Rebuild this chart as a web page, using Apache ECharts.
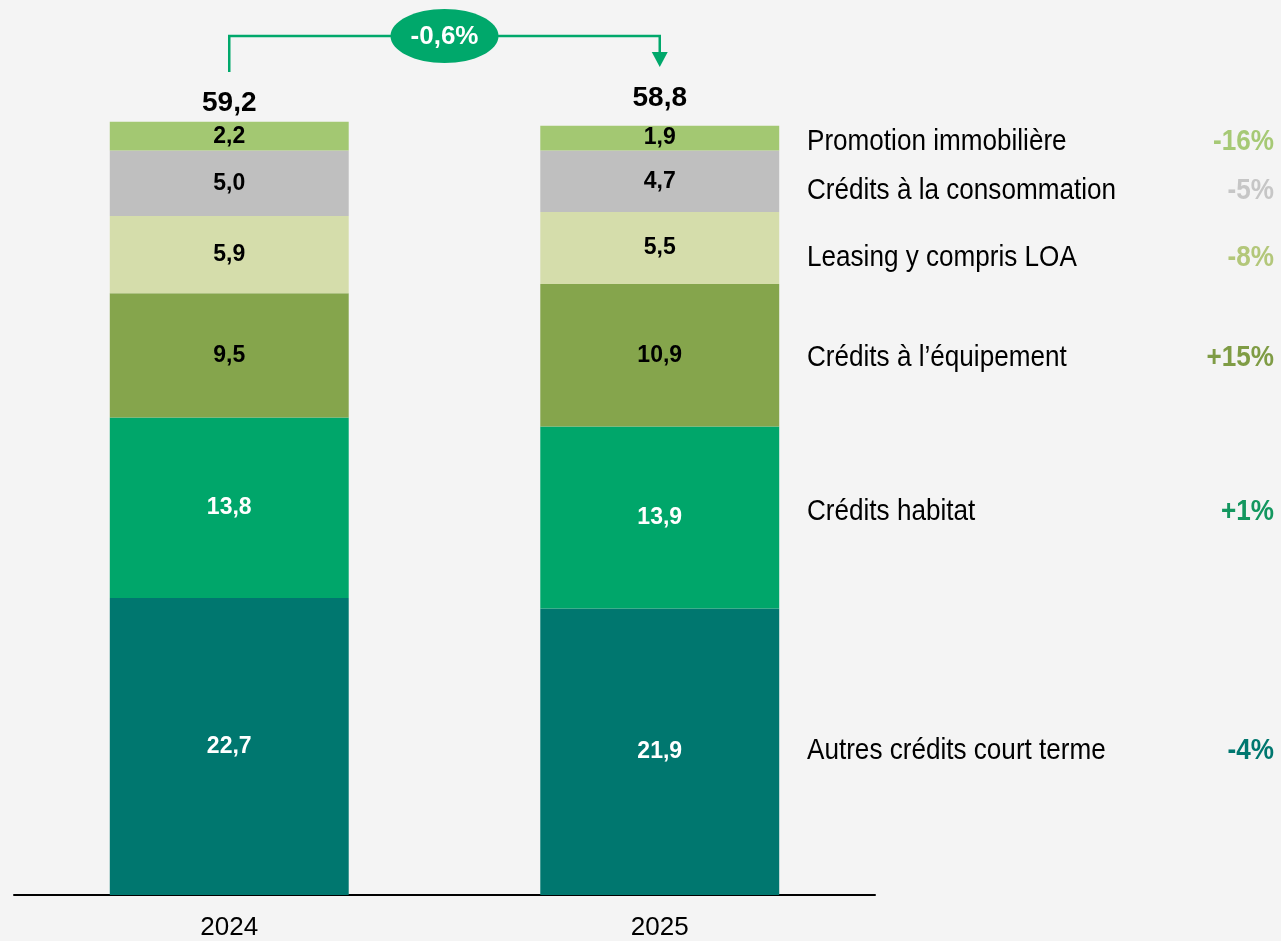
<!DOCTYPE html>
<html>
<head>
<meta charset="utf-8">
<script src="https://cdn.jsdelivr.net/npm/echarts@6/dist/echarts.min.js"></script>
<style>
  html, body { margin: 0; padding: 0; background: #f4f4f4; }
  #main { width: 1281px; height: 941px; }
</style>
</head>
<body>
<div id="main"></div>
<script>
// données
const years = ['2024', '2025'];
const segments = ['Autres crédits court terme', 'Crédits habitat', 'Crédits à l\u2019équipement',
  'Leasing y compris LOA', 'Crédits à la consommation', 'Promotion immobilière'];
const values2024 = [22.7, 13.8, 9.5, 5.9, 5.0, 2.2];
const values2025 = [21.9, 13.9, 10.9, 5.5, 4.7, 1.9];
const totals = [59.2, 58.8];
const changes = ['-4%', '+1%', '+15%', '-8%', '-5%', '-16%'];
const totalChange = '-0,6%';

const colors = ['#00776f', '#00a66a', '#85a54c', '#d5ddab', '#bfbfbf', '#a3c872'];
const changeColors = ['#00776f', '#13975f', '#7f9c45', '#b3c77a', '#c6c6c6', '#a6c975'];
const labelColors = ['#fff', '#fff', '#000', '#000', '#000', '#000'];

const FONT = '"Liberation Sans", Arial, sans-serif';
const fmt = v => v.toFixed(1).replace('.', ',');
const squeeze = 0.87; // pas de police étroite dispo, on compresse

let chart = echarts.init(document.getElementById('main'));

let series = segments.map((name, i) => ({
  name: name,
  type: 'bar',
  stack: 'total',
  barWidth: '55.5%',
  data: [values2024[i], values2025[i]],
  itemStyle: { color: colors[i] },
  label: {
    show: true,
    position: 'inside',
    formatter: p => fmt(p.value),
    color: labelColors[i],
    fontFamily: FONT,
    fontWeight: 'bold',
    fontSize: 23
  }
}));
// totaux au-dessus des barres
series.push({
  name: 'total',
  type: 'bar',
  stack: 'total',
  data: [
    { value: 0, label: { distance: 4 } },
    { value: 0, label: { distance: 13 } }
  ],
  itemStyle: { color: 'transparent' },
  label: {
    show: true,
    position: 'top',
    formatter: p => fmt(totals[p.dataIndex]),
    color: '#000',
    fontFamily: FONT,
    fontWeight: 'bold',
    fontSize: 28
  }
});

let option = {
  backgroundColor: '#f4f4f4',
  animation: false,
  grid: { left: 14, right: 406, top: 110, bottom: 46 },
  xAxis: {
    type: 'category',
    data: years,
    axisLine: { lineStyle: { color: '#000', width: 2 } },
    axisTick: { show: false },
    axisLabel: { color: '#000', fontFamily: FONT, fontSize: 26, margin: 20 }
  },
  yAxis: { type: 'value', min: 0, max: 60, show: false },
  series: series
};
chart.setOption(option);

// étiquettes de droite, alignées sur les segments 2025
const nudge = [-1, -6, 2, 10, 9, 4];
let graphics = [];
let cum = 0;
segments.forEach((name, i) => {
  let mid = cum + values2025[i] / 2;
  cum += values2025[i];
  let y = chart.convertToPixel({ gridIndex: 0 }, ['2025', mid])[1] + nudge[i];
  graphics.push({
    type: 'text', x: 807, y: y, scaleX: squeeze,
    style: { text: name, fill: '#000', font: '30px ' + FONT, textVerticalAlign: 'middle' }
  });
  graphics.push({
    type: 'text', x: 1274, y: y, scaleX: squeeze,
    style: { text: changes[i], fill: changeColors[i], font: 'bold 30px ' + FONT,
      textAlign: 'right', textVerticalAlign: 'middle' }
  });
});

// flèche de variation
let p0 = chart.convertToPixel({ gridIndex: 0 }, ['2024', 0]);
let p1 = chart.convertToPixel({ gridIndex: 0 }, ['2025', 0]);
const lineY = 36, green = '#00a86b';
graphics.push({
  type: 'polyline',
  shape: { points: [[p0[0], 72], [p0[0], lineY], [p1[0], lineY], [p1[0], 52]] },
  style: { stroke: green, lineWidth: 2.5, fill: null }
});
graphics.push({
  type: 'polygon',
  shape: { points: [[p1[0] - 8, 52], [p1[0] + 8, 52], [p1[0], 67]] },
  style: { fill: green }
});
let cx = (p0[0] + p1[0]) / 2;
graphics.push({
  type: 'ellipse',
  shape: { cx: cx, cy: 36, rx: 54, ry: 27 },
  style: { fill: green }
});
graphics.push({
  type: 'text', x: cx, y: 37,
  style: { text: totalChange, fill: '#fff', font: 'bold 26px ' + FONT, textAlign: 'center', textVerticalAlign: 'middle' }
});

chart.setOption({ graphic: graphics });
</script>
</body>
</html>
